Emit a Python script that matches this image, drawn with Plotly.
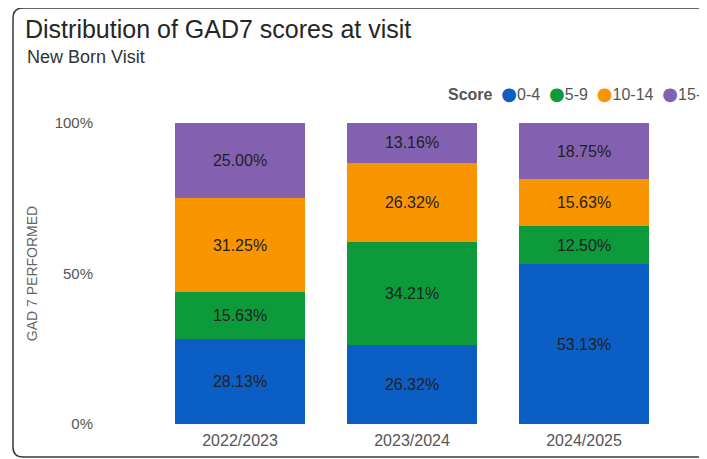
import plotly.graph_objects as go

# ---- data ----
years = ["2022/2023", "2023/2024", "2024/2025"]
score_bands = ["0-4", "5-9", "10-14", "15-21"]
pct_0_4 = [28.13, 26.32, 53.13]
pct_5_9 = [15.63, 34.21, 12.50]
pct_10_14 = [31.25, 26.32, 15.63]
pct_15_21 = [25.00, 13.16, 18.75]
y_tick_vals = [0, 50, 100]
y_tick_text = ["0%", "50%", "100%"]

series = [pct_0_4, pct_5_9, pct_10_14, pct_15_21]
colors = ["#0B5EC4", "#0C9A3B", "#F99500", "#8361B0"]

# page body has an 8px margin; work in reference-pixel coordinates
OFF = 8
W, H = 707 - OFF, 459 - OFF
L, R, T, B = 154 - OFF, W - (670 - OFF), 123 - OFF, H - (424 - OFF)
PW, PH = W - L - R, H - T - B


def px_x(px):
    return (px - OFF - L) / PW


def px_y(py):
    return (H - B - (py - OFF)) / PH


FONT = "Liberation Sans, Arial, sans-serif"

fig = go.Figure()
for name, vals, col in zip(score_bands, series, colors):
    fig.add_trace(go.Bar(
        x=years, y=vals, name=name, marker=dict(color=col, line=dict(width=0)),
        texttemplate="%{y:.2f}%", textposition="inside", insidetextanchor="middle",
        textangle=0, constraintext="none",
        textfont=dict(family=FONT, size=16, color="#222222"),
        showlegend=False,
    ))

legend_html = "<b>Score</b>\u00a0\u00a0" + "\u00a0\u00a0".join(
    f"<span style='color:{c};font-family:DejaVu Sans;font-size:18px'>●</span>{n}"
    for n, c in zip(score_bands, colors)
)

card_path = (
    f"M {px_x(730)},{px_y(8)} L {px_x(23)},{px_y(8)} "
    f"Q {px_x(13)},{px_y(8)} {px_x(13)},{px_y(18)} "
    f"L {px_x(13)},{px_y(447)} Q {px_x(13)},{px_y(457)} {px_x(23)},{px_y(457)} "
    f"L {px_x(730)},{px_y(457)}"
)

fig.update_layout(
    width=W, height=H,
    margin=dict(l=L, r=R, t=T, b=B, autoexpand=False),
    barmode="stack", bargap=0.244,
    paper_bgcolor="white", plot_bgcolor="white",
    font=dict(family=FONT, color="#555555"),
    title=dict(
        text="Distribution of GAD7 scores at visit",
        xref="container", yref="container", x=(25 - OFF) / W, xanchor="left",
        y=1 - (29 - OFF) / H, yanchor="middle",
        font=dict(family=FONT, size=25, color="#252525"),
    ),
    xaxis=dict(
        showgrid=False, zeroline=False, showline=False, ticks="",
        tickfont=dict(family=FONT, size=16, color="#555555"),
        ticklabelstandoff=5,
    ),
    yaxis=dict(
        range=[0, 100.01], tickvals=y_tick_vals, ticktext=y_tick_text,
        showgrid=False, zeroline=False, showline=False, ticks="",
        tickfont=dict(family=FONT, size=15, color="#555555"),
        ticklabelstandoff=60,
        title=dict(text="GAD 7 PERFORMED", standoff=13,
                   font=dict(family=FONT, size=14, color="#666666")),
    ),
    shapes=[dict(type="path", xref="paper", yref="paper", path=card_path,
                 line=dict(color="#3a3a3a", width=1.5), layer="below")],
    annotations=[
        dict(text="New Born Visit", xref="paper", yref="paper",
             x=px_x(25), y=px_y(57), xanchor="left", yanchor="middle",
             showarrow=False, font=dict(family=FONT, size=18, color="#333333")),
        dict(text=legend_html, xref="paper", yref="paper",
             x=px_x(446), y=px_y(93), xanchor="left", yanchor="middle",
             showarrow=False, font=dict(family=FONT, size=16, color="#555555")),
    ],
)

fig.write_html("out.html")
